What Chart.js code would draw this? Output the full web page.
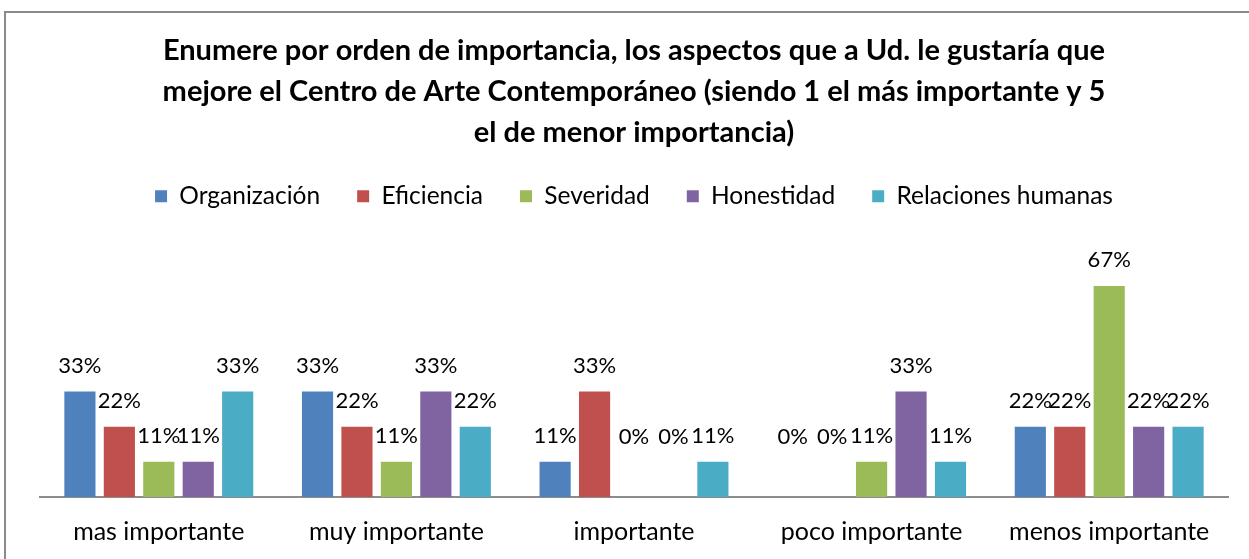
<!DOCTYPE html>
<html lang="es">
<head>
  <meta charset="UTF-8">
  <title>Centro de Arte Contemporáneo</title>
  <style>
    html, body {
      margin: 0;
      padding: 0;
      background: #fff;
      overflow: hidden;
    }
    .wrap {
      position: relative;
      width: 1249px;
      height: 559px;
    }
    /* outer frame of the chart, like the Excel chart area border */
    .frame {
      position: absolute;
      left: 4px;
      top: 11px;
      width: 1260px;
      height: 600px;
      border: 2px solid #8a8a8a;
      box-sizing: border-box;
      pointer-events: none;
    }
    #chart {
      position: absolute;
      left: 0;
      top: 0;
    }
  </style>
</head>
<body>
  <div class="wrap">
    <canvas id="chart" width="1249" height="559"></canvas>
    <div class="frame"></div>
  </div>

  <script src="https://cdn.jsdelivr.net/npm/chart.js"></script>
  <script>
    // data (9 answers, so thirds and ninths)
    const categories = ['mas importante', 'muy importante', 'importante', 'poco importante', 'menos importante'];
    const organizacion = [33.33, 33.33, 11.11, 0, 22.22];
    const eficiencia = [22.22, 22.22, 33.33, 0, 22.22];
    const severidad = [11.11, 11.11, 0, 11.11, 66.67];
    const honestidad = [11.11, 33.33, 0, 33.33, 22.22];
    const relaciones = [33.33, 22.22, 11.11, 11.11, 22.22];

    const titleLines = [
      'Enumere por orden de importancia, los aspectos que a Ud. le gustaría que',
      'mejore el Centro de Arte Contemporáneo (siendo 1 el más importante y 5',
      'el de menor importancia)'
    ];

    const FONT = 'Lato, "Open Sans", sans-serif';

    // draws the % value above each bar
    const valueLabels = {
      id: 'valueLabels',
      afterDatasetsDraw(chart) {
        const ctx = chart.ctx;
        ctx.save();
        ctx.font = '22px ' + FONT;
        ctx.fillStyle = '#000';
        ctx.textAlign = 'center';
        ctx.textBaseline = 'middle';
        chart.data.datasets.forEach((ds, i) => {
          const meta = chart.getDatasetMeta(i);
          meta.data.forEach((bar, j) => {
            const v = ds.data[j];
            const y = v === 0 ? bar.y - 60 : bar.y - 26;
            ctx.fillText(Math.round(v) + '%', bar.x, y);
          });
        });
        ctx.restore();
      }
    };

    const ctx = document.getElementById('chart').getContext('2d');
    new Chart(ctx, {
      type: 'bar',
      data: {
        labels: categories,
        datasets: [
          { label: 'Organización', data: organizacion, backgroundColor: '#4F81BD' },
          { label: 'Eficiencia', data: eficiencia, backgroundColor: '#C0504D' },
          { label: 'Severidad', data: severidad, backgroundColor: '#9BBB59' },
          { label: 'Honestidad', data: honestidad, backgroundColor: '#8064A2' },
          { label: 'Relaciones humanas', data: relaciones, backgroundColor: '#4BACC6' }
        ]
      },
      options: {
        responsive: false,
        animation: false,
        layout: {
          padding: { left: 40, right: 21, top: 0, bottom: 0 }
        },
        datasets: {
          bar: {
            categoryPercentage: 0.83,
            barPercentage: 0.79
          }
        },
        plugins: {
          title: {
            display: true,
            text: titleLines,
            color: '#000',
            font: { family: FONT, size: 29, weight: 'bold', lineHeight: '41px' },
            padding: { top: 30, bottom: -6 }
          },
          legend: {
            display: true,
            labels: {
              boxWidth: 12,
              boxHeight: 12,
              padding: 37,
              color: '#000',
              font: { family: FONT, size: 24.5 }
            }
          },
          tooltip: { enabled: false }
        },
        scales: {
          x: {
            grid: { display: false, drawTicks: false },
            border: { display: true, color: '#8c8c8c', width: 2 },
            ticks: {
              color: '#000',
              padding: 20,
              font: { family: FONT, size: 25 }
            },
            afterFit(scale) {
              scale.height = 62;
            }
          },
          y: {
            display: false,
            min: 0,
            max: 88
          }
        }
      },
      plugins: [valueLabels]
    });
  </script>
</body>
</html>
